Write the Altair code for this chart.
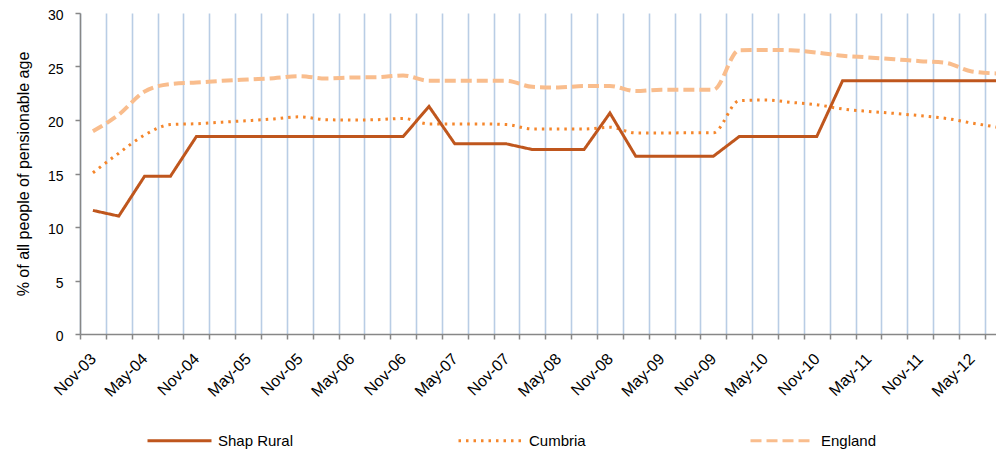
import altair as alt
import pandas as pd

periods = ["Nov-03", "Feb-04", "May-04", "Aug-04", "Nov-04", "Feb-05", "May-05", "Aug-05",
           "Nov-05", "Feb-06", "May-06", "Aug-06", "Nov-06", "Feb-07", "May-07", "Aug-07",
           "Nov-07", "Feb-08", "May-08", "Aug-08", "Nov-08", "Feb-09", "May-09", "Aug-09",
           "Nov-09", "Feb-10", "May-10", "Aug-10", "Nov-10", "Feb-11", "May-11", "Aug-11",
           "Nov-11", "Feb-12", "May-12", "Aug-12"]

shap_rural = [11.55, 11.02, 14.75, 14.75, 18.45, 18.45, 18.45, 18.45, 18.45, 18.45, 18.45, 18.45,
              18.45, 21.27, 17.77, 17.77, 17.77, 17.24, 17.24, 17.24, 20.65, 16.61, 16.61, 16.61,
              16.61, 18.45, 18.45, 18.45, 18.45, 23.67, 23.67, 23.67, 23.67, 23.67, 23.67, 23.67]

cumbria = [15.07, 16.9, 18.6, 19.57, 19.65, 19.8, 19.94, 20.1, 20.3, 20.03, 20.0, 20.03,
           20.15, 19.63, 19.63, 19.63, 19.57, 19.16, 19.16, 19.16, 19.32, 18.79, 18.79, 18.8,
           18.8, 21.8, 21.87, 21.65, 21.43, 21.03, 20.8, 20.62, 20.4, 20.15, 19.72, 19.32]

england = [18.94, 20.5, 22.67, 23.36, 23.5, 23.66, 23.79, 23.91, 24.1, 23.88, 23.97, 24.0,
           24.16, 23.66, 23.66, 23.66, 23.66, 23.1, 23.04, 23.17, 23.17, 22.7, 22.83, 22.83,
           22.83, 26.52, 26.55, 26.52, 26.3, 26.0, 25.85, 25.68, 25.5, 25.34, 24.53, 24.35]

series_names = ["Shap Rural", "Cumbria", "England"]
series_colors = ["#BF561D", "#F5862B", "#F9BD8D"]
series_dashes = [[1, 0], [2.5, 5], [11, 5]]
y_ticks = [0, 5, 10, 15, 20, 25, 30]

rows = []
for name, vals in zip(series_names, [shap_rural, cumbria, england]):
    for i, (p, v) in enumerate(zip(periods, vals)):
        rows.append({"idx": i, "period": p, "series": name, "value": v})
df = pd.DataFrame(rows)

unit = 25.85
W, H = 916, 321
x_lo = -0.5
x_hi = x_lo + W / unit

label_array = "[" + ",".join("'%s'" % p for p in periods) + "]"
label_expr = ("datum.value > 0 && round(datum.value - 0.5) % 2 == 0 ? "
              + label_array + "[round(datum.value - 0.5)] : ''")

x_enc = alt.X(
    "idx:Q",
    scale=alt.Scale(domain=[x_lo, x_hi], nice=False, zero=False),
    axis=alt.Axis(
        title=None,
        values=[i + 0.5 for i in range(-1, 35)],
        grid=True, gridColor="#B9CDE5", gridWidth=1.6,
        ticks=True, tickSize=5, tickColor="#878787", tickWidth=1.5,
        domainColor="#878787", domainWidth=1.5,
        labelExpr=label_expr, labelOffset=-unit / 2,
        labelAngle=315, labelAlign="right", labelBaseline="middle",
        labelPadding=17, labelFontSize=16, labelColor="#000000",
        labelOverlap=False, labelFlush=False, labelBound=False,
    ),
)

y_enc = alt.Y(
    "value:Q",
    scale=alt.Scale(domain=[0, 30], nice=False),
    axis=alt.Axis(
        title="% of all people of pensionable age",
        values=y_ticks, grid=False,
        ticks=True, tickSize=5, tickColor="#878787", tickWidth=1.5,
        domainColor="#878787", domainWidth=1.5,
        labelFontSize=14, labelColor="#000000", labelPadding=12, labelOffset=2.5,
        titleFontSize=16, titleFontWeight="normal", titleColor="#000000",
        titleAngle=270, titleX=-57, titleY=H / 2,
        titleAlign="center", titleBaseline="middle",
    ),
)

legend_cfg = dict(
    title=None, orient="none", legendX=66, legendY=394,
    direction="horizontal", symbolType="stroke", symbolSize=4096,
    symbolStrokeWidth=3, labelFontSize=15, labelColor="#000000",
    labelOffset=5, columnPadding=158, padding=0,
)

color_enc = alt.Color(
    "series:N",
    scale=alt.Scale(domain=series_names, range=series_colors),
    legend=alt.Legend(**legend_cfg),
)
dash_enc = alt.StrokeDash(
    "series:N",
    scale=alt.Scale(domain=series_names, range=series_dashes),
    legend=alt.Legend(**legend_cfg),
)

base = alt.Chart(df).encode(x=x_enc, y=y_enc, color=color_enc, strokeDash=dash_enc,
                            detail="series:N")

eng = base.transform_filter(alt.datum.series == "England").mark_line(
    interpolate="monotone", strokeWidth=4, strokeCap="butt")
cum = base.transform_filter(alt.datum.series == "Cumbria").mark_line(
    interpolate="monotone", strokeWidth=3, strokeCap="butt")
shap = base.transform_filter(alt.datum.series == "Shap Rural").mark_line(
    strokeWidth=3, strokeJoin="miter")

chart = alt.layer(eng, cum, shap).properties(
    width=W, height=H,
    autosize=alt.AutoSizeParams(type="none"),
    padding={"left": 72, "top": 5, "right": 0, "bottom": 115},
).configure(font="Liberation Sans").configure_view(stroke=None)

chart.save("out.html", embed_options={"renderer": "svg", "actions": False})
